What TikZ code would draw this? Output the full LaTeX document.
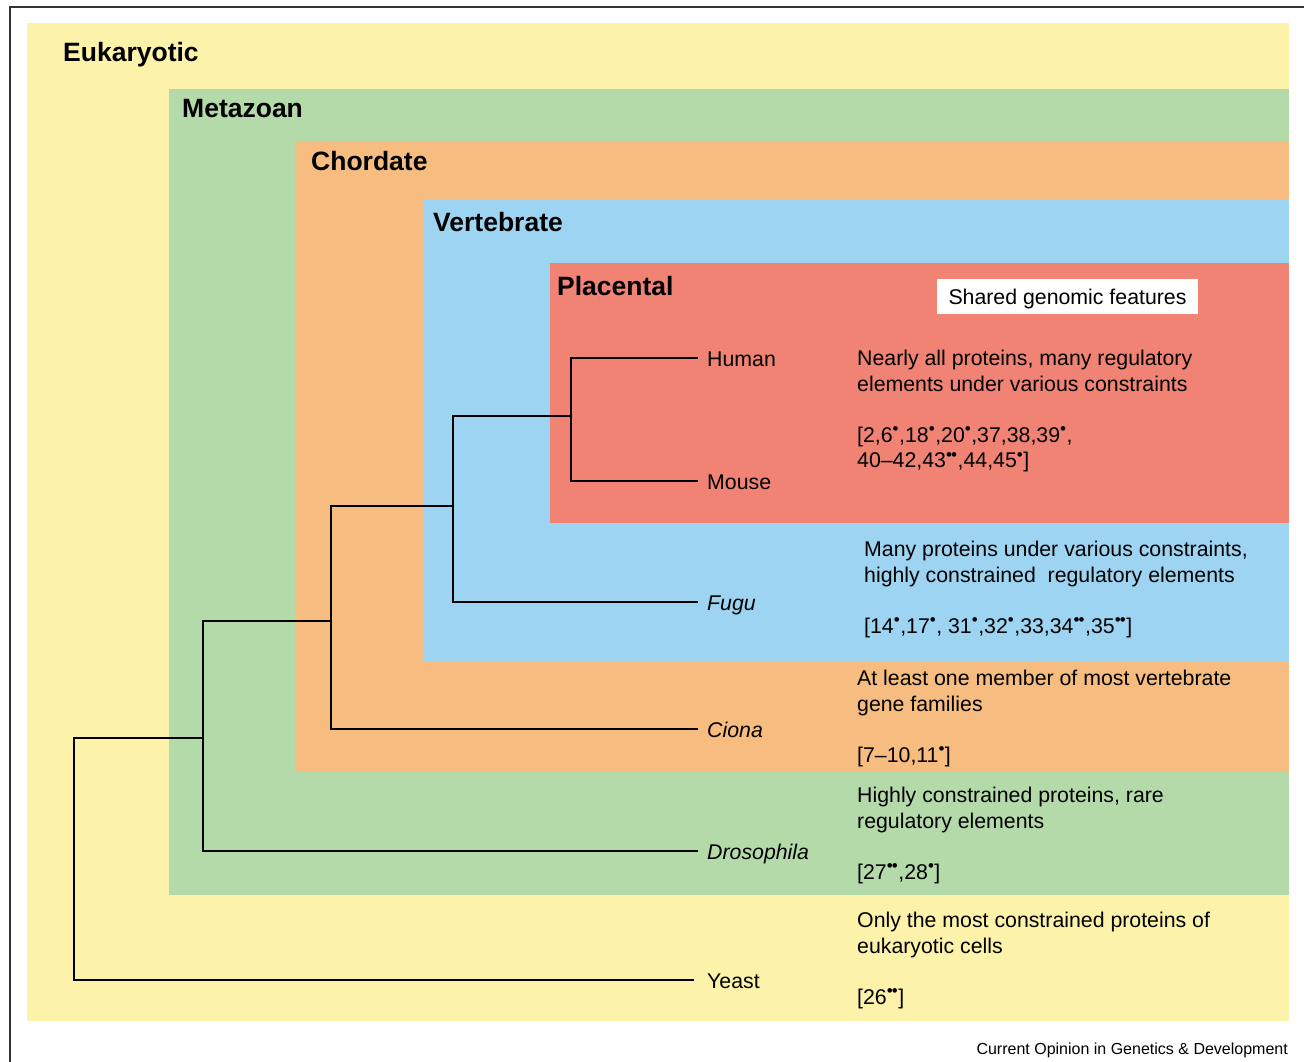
\documentclass[tikz,border=0pt]{standalone}
\usepackage{fontspec}
\setmainfont{Liberation Sans}
\definecolor{eukfill}{RGB}{253,242,170}
\definecolor{metfill}{RGB}{181,218,170}
\definecolor{chofill}{RGB}{246,188,128}
\definecolor{verfill}{RGB}{157,212,241}
\definecolor{plafill}{RGB}{240,131,116}
\newcommand{\one}{\textsuperscript{\fontsize{17}{17}\selectfont •}}
\newcommand{\two}{\textsuperscript{\fontsize{17}{17}\selectfont •\kern-0.8pt•}}
\tikzset{
  clade/.style={font=\fontsize{26.5}{30}\selectfont\bfseries, anchor=base west, inner sep=0pt},
  leaf/.style={font=\fontsize{21.3}{25}\selectfont, anchor=west, inner xsep=9pt, inner ysep=0pt, text height=17.5pt, text depth=0pt},
  feat/.style={font=\fontsize{21.3}{25.5}\selectfont, anchor=north west, align=left, inner sep=0pt},
  branch/.style={line width=2.2pt},
}
\begin{document}
\begin{tikzpicture}[x=1pt,y=-1pt]
  \useasboundingbox (0,0) rectangle (1304,1062);
  % nested groups
  \fill[eukfill] (27,23) rectangle (1289,1021);
  \fill[metfill] (169,89) rectangle (1289,895);
  \fill[chofill] (295,141) rectangle (1289,771);
  \fill[verfill] (423,199) rectangle (1289,661);
  \fill[plafill] (550,263) rectangle (1289,523);
  \draw[line width=2pt,black!80] (10,1062) -- (10,7) -- (1304,7);

  \node[clade] (eukt) at (63,62) {Eukaryotic};
  \node[clade] (mett) at (182,118) {Metazoan};
  \node[clade] (chot) at (311,171) {Chordate};
  \node[clade] (vert) at (433,231) {Vertebrate};
  \node[clade] (plat) at (557,295) {Placental};
  \node[fill=white, minimum width=261pt, minimum height=35pt, inner sep=0pt,
        text height=15pt, text depth=0pt,
        font=\fontsize{21.3}{25}\selectfont] (shared) at (1067.5,296.5) {Shared genomic features};

  % species
  \node[leaf] (human) at (698,358) {Human};
  \node[leaf] (mouse) at (698,481) {Mouse};
  \node[leaf] (fugu) at (698,602) {\textit{Fugu}};
  \node[leaf] (ciona) at (698,729) {\textit{Ciona}};
  \node[leaf] (droso) at (698,851) {\textit{Drosophila}};
  \node[leaf, inner xsep=13pt] (yeast) at (694,980) {Yeast};

  % tree
  \coordinate (hm) at (571,416);
  \coordinate (vt) at (453,506);
  \coordinate (ch) at (331,621);
  \coordinate (mz) at (203,738);
  \coordinate (root) at (74,859);
  \draw[branch] (hm) |- (human.west);
  \draw[branch] (hm) |- (mouse.west);
  \draw[branch] (vt) |- (hm);
  \draw[branch] (vt) |- (fugu.west);
  \draw[branch] (ch) |- (vt);
  \draw[branch] (ch) |- (ciona.west);
  \draw[branch] (mz) |- (ch);
  \draw[branch] (mz) |- (droso.west);
  \draw[branch] (root) |- (mz);
  \draw[branch] (root) |- (yeast.west);

  % features
  \node[feat] (plaf) at (857,350) {Nearly all proteins, many regulatory\\elements under various constraints\\[25.5pt]
    [2,6\one,18\one,20\one,37,38,39\one,\\40--42,43\two,44,45\one]};
  \node[feat] (verf) at (864,541) {Many proteins under various constraints,\\highly constrained\ \ regulatory elements\\[25.5pt]
    [14\one,17\one, 31\one,32\one,33,34\two,35\two]};
  \node[feat] (chof) at (857,670) {At least one member of most vertebrate\\gene families\\[25.5pt]
    [7--10,11\one]};
  \node[feat] (metf) at (857,787) {Highly constrained proteins, rare\\regulatory elements\\[25.5pt]
    [27\two,28\one]};
  \node[feat] (eukf) at (857,912) {Only the most constrained proteins of\\eukaryotic cells\\[25.5pt]
    [26\two]};

  \node[font=\fontsize{16}{19}\selectfont, anchor=base east, inner sep=0pt] (credit) at (1288,1054)
    {Current Opinion in Genetics \& Development};
\end{tikzpicture}
\end{document}
